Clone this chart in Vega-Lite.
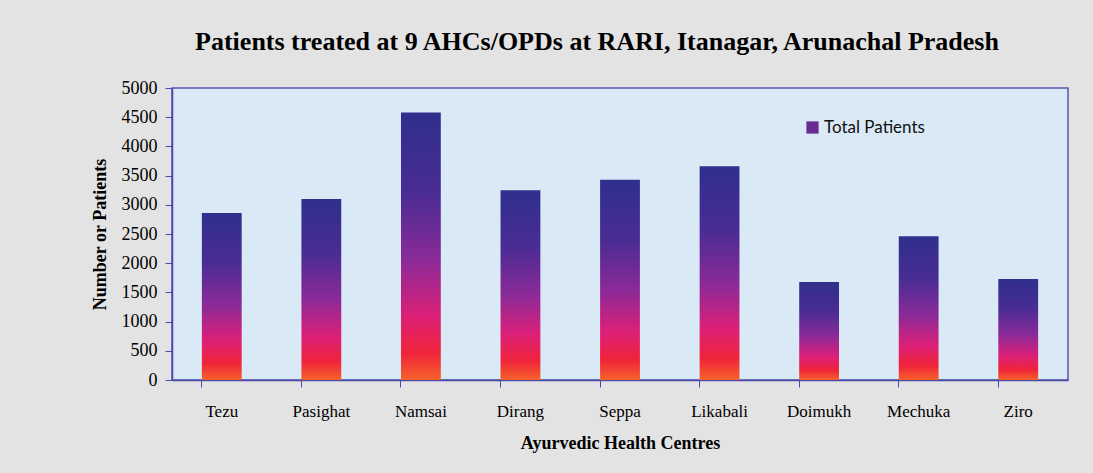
{
  "$schema": "https://vega.github.io/schema/vega-lite/v6.json",
  "width": 896,
  "height": 292,
  "autosize": "none",
  "padding": {"left": 172, "top": 88, "right": 25, "bottom": 93},
  "background": "#e3e3e3",
  "title": {
    "text": "Patients treated at 9 AHCs/OPDs at RARI, Itanagar, Arunachal Pradesh",
    "font": "Liberation Serif",
    "fontSize": 26,
    "fontWeight": "bold",
    "color": "#000000",
    "offset": 24,
    "dx": -23
  },
  "config": {
    "view": {"fill": "#d9eaf6", "stroke": "#5555b0", "strokeWidth": 1.5}
  },
  "data": {
    "values": [
      {"centre": "Tezu", "patients": 2860, "series": "Total Patients"},
      {"centre": "Pasighat", "patients": 3100, "series": "Total Patients"},
      {"centre": "Namsai", "patients": 4580, "series": "Total Patients"},
      {"centre": "Dirang", "patients": 3250, "series": "Total Patients"},
      {"centre": "Seppa", "patients": 3430, "series": "Total Patients"},
      {"centre": "Likabali", "patients": 3660, "series": "Total Patients"},
      {"centre": "Doimukh", "patients": 1680, "series": "Total Patients"},
      {"centre": "Mechuka", "patients": 2460, "series": "Total Patients"},
      {"centre": "Ziro", "patients": 1730, "series": "Total Patients"}
    ]
  },
  "encoding": {
    "x": {
      "field": "centre",
      "type": "nominal",
      "sort": null,
      "scale": {"paddingInner": 0.6, "paddingOuter": 0.3},
      "axis": {
        "title": "Ayurvedic Health Centres",
        "titleFont": "Liberation Serif",
        "titleFontSize": 18,
        "titleFontWeight": "bold",
        "titleColor": "#000000",
        "titlePadding": 15,
        "labelFont": "Liberation Serif",
        "labelFontSize": 17,
        "labelColor": "#000000",
        "labelAngle": 0,
        "labelPadding": 16,
        "bandPosition": 0,
        "domainColor": "#4a4aa8",
        "domainWidth": 1.5,
        "tickColor": "#4a4aa8",
        "tickSize": 7
      }
    },
    "y": {
      "field": "patients",
      "type": "quantitative",
      "scale": {"domain": [0, 5000], "nice": false},
      "axis": {
        "title": "Number or Patients",
        "titleFont": "Liberation Serif",
        "titleFontSize": 18,
        "titleFontWeight": "bold",
        "titleColor": "#000000",
        "titlePadding": 12,
        "values": [0, 500, 1000, 1500, 2000, 2500, 3000, 3500, 4000, 4500, 5000],
        "format": "d",
        "labelFont": "Liberation Serif",
        "labelFontSize": 18,
        "labelColor": "#000000",
        "labelPadding": 8,
        "grid": false,
        "domainColor": "#4a4aa8",
        "domainWidth": 1.5,
        "tickColor": "#4a4aa8",
        "tickSize": 7
      }
    }
  },
  "layer": [
    {
      "mark": {
        "type": "bar",
        "color": {
          "gradient": "linear",
          "x1": 0, "y1": 0, "x2": 0, "y2": 1,
          "stops": [
            {"offset": 0, "color": "#2f2f8c"},
            {"offset": 0.3, "color": "#4a2c93"},
            {"offset": 0.55, "color": "#8a2a98"},
            {"offset": 0.76, "color": "#dc2078"},
            {"offset": 0.9, "color": "#f0243a"},
            {"offset": 1, "color": "#f5622a"}
          ]
        }
      }
    },
    {
      "mark": {"type": "square", "opacity": 0},
      "encoding": {
        "color": {
          "field": "series",
          "type": "nominal",
          "scale": {"range": ["#6a2a94"]},
          "legend": {
            "title": null,
            "orient": "none",
            "legendX": 632,
            "legendY": 31,
            "symbolType": "square",
            "symbolSize": 150,
            "symbolOpacity": 1,
            "symbolStrokeWidth": 0,
            "labelFont": "Lato",
            "labelFontSize": 17,
            "labelColor": "#111111",
            "labelOffset": 3
          }
        }
      }
    }
  ]
}
